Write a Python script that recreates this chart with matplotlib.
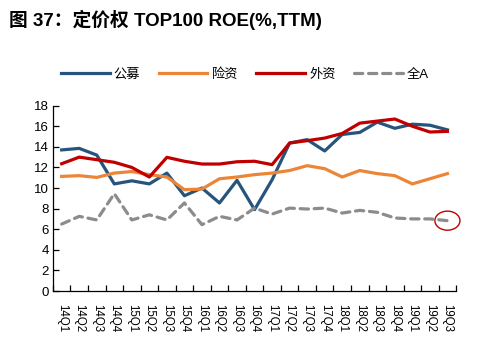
import matplotlib
matplotlib.use("Agg")
import matplotlib.pyplot as plt
from matplotlib.patches import Ellipse

plt.rcParams['font.family'] = ['Liberation Sans', 'Noto Sans CJK SC', 'DejaVu Sans']

quarters = ["14Q1", "14Q2", "14Q3", "14Q4", "15Q1", "15Q2", "15Q3", "15Q4",
            "16Q1", "16Q2", "16Q3", "16Q4", "17Q1", "17Q2", "17Q3", "17Q4",
            "18Q1", "18Q2", "18Q3", "18Q4", "19Q1", "19Q2", "19Q3"]
gongmu = [13.7, 13.85, 13.2, 10.4, 10.7, 10.4, 11.45, 9.25, 10.0, 8.55, 10.75, 7.9,
          10.8, 14.37, 14.7, 13.6, 15.2, 15.4, 16.4, 15.8, 16.2, 16.1, 15.65]
xianzi = [11.13, 11.2, 11.03, 11.45, 11.6, 11.3, 11.07, 9.84, 9.9, 10.9, 11.07, 11.3,
          11.45, 11.7, 12.17, 11.88, 11.07, 11.7, 11.4, 11.2, 10.4, 10.9, 11.4]
waizi = [12.36, 13.0, 12.75, 12.5, 12.0, 11.07, 12.98, 12.6, 12.33, 12.33, 12.55, 12.6,
         12.27, 14.37, 14.6, 14.85, 15.3, 16.3, 16.5, 16.7, 16.0, 15.44, 15.5]
quanA = [6.5, 7.25, 6.9, 9.45, 6.9, 7.4, 6.9, 8.55, 6.44, 7.25, 6.9, 8.05,
         7.47, 8.05, 7.96, 8.05, 7.57, 7.83, 7.64, 7.09, 7.0, 7.0, 6.83]
series_names = ["公募", "险资", "外资", "全A"]

fig = plt.figure(figsize=(4.9, 3.43), dpi=100)
ax = fig.add_axes([0.108, 0.1516, 0.823, 0.5404])

x = list(range(len(quarters)))
lw = 2.3
ax.plot(x, gongmu, color='#26547C', lw=lw, label=series_names[0])
ax.plot(x, xianzi, color='#ED8536', lw=lw, label=series_names[1])
ax.plot(x, waizi, color='#C00000', lw=lw, label=series_names[2])
ax.plot(x, quanA, color='#8C8C8C', lw=lw, label=series_names[3],
        dashes=(2.6, 1.8), dash_capstyle='round')

ax.add_patch(Ellipse((x[-1], quanA[-1]), 1.43, 1.85, fill=False,
                     edgecolor='#C00000', lw=1.0, clip_on=False))

ax.set_xlim(-0.5, len(quarters) - 0.5)
ax.set_ylim(0, 18)
ax.set_yticks(range(0, 19, 2))
ax.set_xticks([i - 0.5 for i in range(len(quarters) + 1)])
ax.set_xticklabels([])
ax.set_xticks(x, minor=True)
ax.set_xticklabels(quarters, minor=True, rotation=270, fontsize=8.3)
ax.tick_params(axis='x', which='minor', length=0, pad=9)
ax.tick_params(axis='x', which='major', length=4, width=0.9, direction='in')
ax.tick_params(axis='y', length=4, width=0.9, direction='in', labelsize=9.5, pad=3)
for s in ['top', 'right']:
    ax.spines[s].set_visible(False)
for s in ['left', 'bottom']:
    ax.spines[s].set_linewidth(0.9)

fig.legend(loc='center', bbox_to_anchor=(0.5, 0.782), ncol=4, frameon=False,
           fontsize=9.5, handlelength=3.7, handletextpad=0.3, columnspacing=1.4)

fig.text(0.018, 0.942, "图 37：定价权 TOP100 ROE(%,TTM)", fontsize=13.5,
         fontweight='bold', va='center', ha='left',
         family=['Liberation Sans', 'Noto Sans CJK SC', 'DejaVu Sans'])

fig.savefig("out.png", dpi=100)
